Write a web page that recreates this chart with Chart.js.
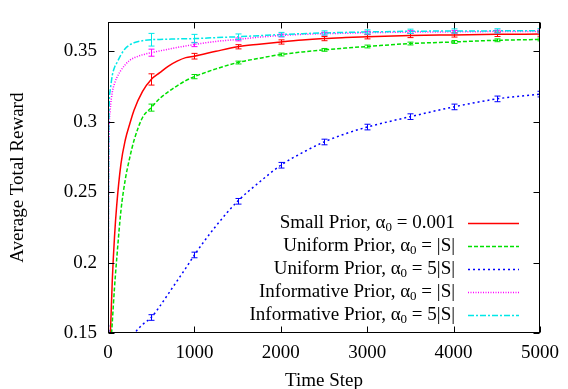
<!DOCTYPE html>
<html>
<head>
<meta charset="utf-8">
<script src="https://cdn.jsdelivr.net/npm/chart.js@4.4.1/dist/chart.umd.min.js"></script>
<style>
html,body{margin:0;padding:0;background:#fff;}
#c{display:block;}
</style>
</head>
<body>
<canvas id="c" width="568" height="389"></canvas>
<script>
// ---- data ----
const steps = [0, 10, 25, 50, 75, 100, 150, 200, 250, 300, 400, 500, 600, 700, 800, 900, 1000, 1250, 1500, 1750, 2000, 2250, 2500, 2750, 3000, 3500, 4000, 4500, 5000];
const smallPrior = [0.12, 0.13, 0.145, 0.188, 0.218, 0.240, 0.270, 0.287, 0.298, 0.308, 0.3215, 0.330, 0.3348, 0.3395, 0.343, 0.3455, 0.3465, 0.350, 0.3532, 0.355, 0.3566, 0.358, 0.359, 0.3597, 0.3603, 0.3612, 0.3616, 0.362, 0.3622];
const uniformS = [0.12, 0.125, 0.135, 0.158, 0.182, 0.202, 0.237, 0.259, 0.274, 0.2865, 0.303, 0.310, 0.3165, 0.3213, 0.3255, 0.3292, 0.332, 0.3375, 0.342, 0.345, 0.3477, 0.3495, 0.351, 0.3523, 0.3534, 0.3555, 0.3566, 0.3578, 0.3584];
const uniform5S = [0.163, 0.150, 0.140, 0.132, 0.129, 0.128, 0.130, 0.135, 0.143, 0.149, 0.156, 0.161, 0.169, 0.178, 0.187, 0.196, 0.2054, 0.226, 0.2435, 0.257, 0.2691, 0.278, 0.2856, 0.2915, 0.2962, 0.3036, 0.3105, 0.3162, 0.3196];
const informS = [0.14, 0.28, 0.308, 0.321, 0.327, 0.331, 0.3365, 0.3405, 0.3435, 0.3453, 0.3475, 0.349, 0.3503, 0.3515, 0.3527, 0.3538, 0.3548, 0.357, 0.3584, 0.360, 0.3612, 0.362, 0.3625, 0.3628, 0.3632, 0.3636, 0.3638, 0.364, 0.3641];
const inform5S = [0.14, 0.30, 0.322, 0.333, 0.3385, 0.3415, 0.3475, 0.352, 0.3545, 0.356, 0.3575, 0.3582, 0.3584, 0.3586, 0.3588, 0.3589, 0.359, 0.3597, 0.3603, 0.3611, 0.3619, 0.3625, 0.363, 0.3634, 0.3637, 0.3642, 0.3644, 0.3645, 0.3646];

// error bars (half-widths) at these steps
const errSteps = [500, 1000, 1500, 2000, 2500, 3000, 3500, 4000, 4500, 5000];
const errSmall = [0.004, 0.002, 0.0015, 0.0015, 0.0015, 0.0015, 0.0015, 0.0015, 0.0015, 0.0015];
const errUniS = [0.0025, 0.0015, 0.001, 0.001, 0.001, 0.001, 0.001, 0.001, 0.001, 0.001];
const errUni5S = [0.002, 0.002, 0.002, 0.002, 0.002, 0.002, 0.002, 0.002, 0.002, 0.002];
const errInfS = [0.0025, 0.0015, 0.001, 0.001, 0.001, 0.001, 0.001, 0.001, 0.001, 0.001];
const errInf5S = [0.0045, 0.003, 0.002, 0.0015, 0.0015, 0.0015, 0.0015, 0.0015, 0.0015, 0.0015];

const xTicks = [0, 1000, 2000, 3000, 4000, 5000];
const yTicks = [0.15, 0.2, 0.25, 0.3, 0.35];

const legendPre = ['Small Prior, α', 'Uniform Prior, α', 'Uniform Prior, α', 'Informative Prior, α', 'Informative Prior, α'];
const legendPost = [' = 0.001', ' = |S|', ' = 5|S|', ' = |S|', ' = 5|S|'];
const legendSub = '0';

const FONT = '"Liberation Serif", "Times New Roman", serif';

function pts(vals){ return steps.map((s,i)=>({x:s, y:vals[i]})); }

const seriesDefs = [
  {vals: smallPrior, err: errSmall, color:'#ff0000', dash:[]},
  {vals: uniformS, err: errUniS, color:'#00e000', dash:[4,2]},
  {vals: uniform5S, err: errUni5S, color:'#0000ff', dash:[2,3]},
  {vals: informS, err: errInfS, color:'#ff00ff', dash:[1,1.5]},
  {vals: inform5S, err: errInf5S, color:'#00e8e8', dash:[6,2,2,2]},
];

const datasets = seriesDefs.map((s,i)=>({
  label: legendPre[i] + '₀' + legendPost[i],
  data: pts(s.vals),
  borderColor: s.color,
  backgroundColor: s.color,
  borderWidth: 1.5,
  borderDash: s.dash,
  pointRadius: 0,
  tension: 0.2,
  cubicInterpolationMode: 'monotone',
  fill: false,
  order: 5 - i
}));

const decorPlugin = {
  id: 'decor',
  afterDatasetsDraw(chart){
    const {ctx, chartArea:a, scales:{x, y}} = chart;
    ctx.save();
    // error bars
    ctx.beginPath();
    ctx.rect(a.left, a.top, a.right - a.left, a.bottom - a.top);
    ctx.clip();
    seriesDefs.forEach((s)=>{
      ctx.strokeStyle = s.color;
      ctx.lineWidth = 1;
      ctx.setLineDash([]);
      errSteps.forEach((st, j)=>{
        const idx = steps.indexOf(st);
        const v = s.vals[idx];
        const px = Math.round(x.getPixelForValue(st)) + 0.5;
        const y1 = y.getPixelForValue(v - s.err[j]);
        const y2 = y.getPixelForValue(v + s.err[j]);
        ctx.beginPath();
        ctx.moveTo(px, y1); ctx.lineTo(px, y2);
        ctx.moveTo(px - 3, y1); ctx.lineTo(px + 3, y1);
        ctx.moveTo(px - 3, y2); ctx.lineTo(px + 3, y2);
        ctx.stroke();
      });
    });
    ctx.restore();
    ctx.save();
    // frame
    ctx.strokeStyle = '#000';
    ctx.lineWidth = 1;
    ctx.setLineDash([]);
    const L = Math.round(a.left) + 0.5, R = Math.round(a.right) - 0.5;
    const T = Math.round(a.top) + 0.5, B = Math.round(a.bottom) - 0.5;
    ctx.strokeRect(L, T, R - L, B - T);
    const TL = 6;
    ctx.beginPath();
    xTicks.forEach(t=>{
      const px = Math.round(x.getPixelForValue(t)) + 0.5;
      ctx.moveTo(px, B); ctx.lineTo(px, B - TL);
      ctx.moveTo(px, T); ctx.lineTo(px, T + TL);
    });
    yTicks.forEach(t=>{
      const py = Math.round(y.getPixelForValue(t)) + 0.5;
      ctx.moveTo(L, py); ctx.lineTo(L + TL, py);
      ctx.moveTo(R, py); ctx.lineTo(R - TL, py);
    });
    ctx.stroke();
    // legend
    const mainFont = '19px ' + FONT;
    const subFont = '13px ' + FONT;
    const textRight = 455;
    const lx1 = 468, lx2 = 519;
    const rowY = [223, 246, 269, 292, 315];
    ctx.textBaseline = 'middle';
    ctx.textAlign = 'left';
    seriesDefs.forEach((s,i)=>{
      ctx.font = mainFont;
      const wPre = ctx.measureText(legendPre[i]).width;
      const wPost = ctx.measureText(legendPost[i]).width;
      ctx.font = subFont;
      const wSub = ctx.measureText(legendSub).width;
      let xs = textRight - wPre - wSub - wPost;
      const yy = rowY[i];
      ctx.fillStyle = '#000';
      ctx.font = mainFont;
      ctx.fillText(legendPre[i], xs, yy);
      xs += wPre;
      ctx.font = subFont;
      ctx.fillText(legendSub, xs, yy + 5);
      xs += wSub;
      ctx.font = mainFont;
      ctx.fillText(legendPost[i], xs, yy);
      ctx.strokeStyle = s.color;
      ctx.lineWidth = 1.5;
      ctx.setLineDash(s.dash);
      ctx.beginPath();
      ctx.moveTo(lx1, yy + 0.5); ctx.lineTo(lx2, yy + 0.5);
      ctx.stroke();
    });
    ctx.restore();
  }
};

new Chart(document.getElementById('c'), {
  type: 'line',
  data: { datasets },
  options: {
    responsive: false,
    animation: false,
    devicePixelRatio: 1,
    layout: { padding: { top: 9, right: 26, left: 0, bottom: 0 } },
    plugins: { legend: { display: false }, tooltip: { enabled: false } },
    scales: {
      x: {
        type: 'linear',
        min: 0, max: 5000,
        grid: { display: false, drawTicks: false },
        border: { display: false },
        afterBuildTicks: (s)=>{ s.ticks = xTicks.map(v=>({value:v})); },
        afterFit: (s)=>{ s.height = 56; },
        ticks: { color: '#000', font: { family: FONT, size: 19 }, padding: 9, maxRotation: 0, callback: (v)=>String(v) },
        title: { display: true, text: 'Time Step', color: '#000', font: { family: FONT, size: 19 }, padding: { top: 0, bottom: -3 } }
      },
      y: {
        type: 'linear',
        min: 0.15, max: 0.3705,
        grid: { display: false, drawTicks: false },
        border: { display: false },
        afterBuildTicks: (s)=>{ s.ticks = yTicks.map(v=>({value:v})); },
        afterFit: (s)=>{ s.width = 108; },
        ticks: { color: '#000', font: { family: FONT, size: 19 }, padding: 11, callback: (v)=>String(v) },
        title: { display: true, text: 'Average Total Reward', color: '#000', font: { family: FONT, size: 19 }, padding: { top: 7, bottom: 0 } }
      }
    }
  },
  plugins: [decorPlugin]
});
</script>
</body>
</html>
